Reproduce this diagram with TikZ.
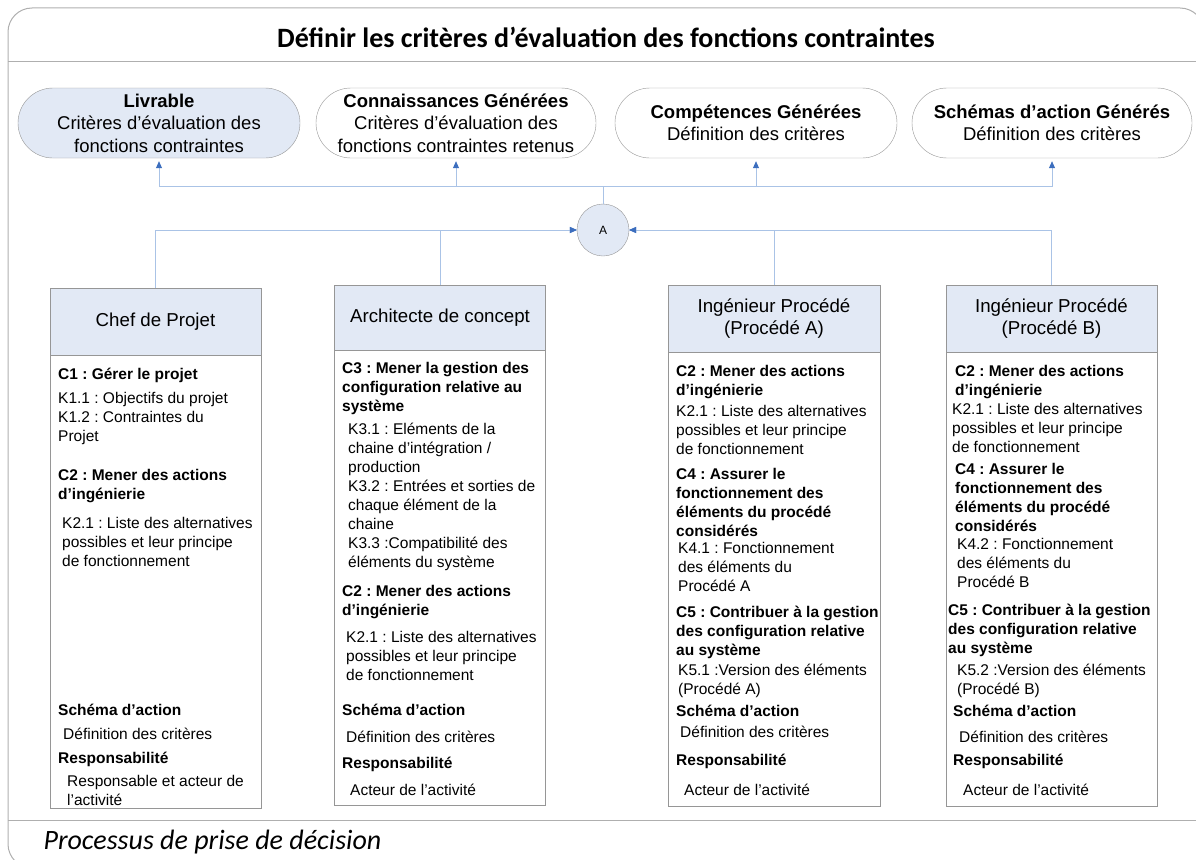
\documentclass[tikz,border=0pt]{standalone}
\usepackage{fontspec}
\setmainfont{Liberation Sans}
\newfontfamily\calibri{Carlito}
\usetikzlibrary{arrows.meta,shapes.misc,positioning,calc}
\definecolor{cadreGris} {RGB}{175, 175, 175}
\definecolor{boiteGris} {RGB}{150, 150, 150}
\definecolor{teteBleu}  {RGB}{226, 233, 245}
\definecolor{lienBleu}  {RGB}{170, 195, 230}
\definecolor{pointeBleu}{RGB}{ 60, 110, 190}
\frenchspacing

\tikzset{
  capsule/.style={rounded rectangle, draw=boiteGris, minimum height=70pt,
    inner sep=0pt, align=center, font=\fontsize{18.5}{22.5}\selectfont},
  entete/.style={rectangle, draw=boiteGris, fill=teteBleu, minimum width=211pt,
    align=center, font=\fontsize{18.7}{22}\selectfont},
  corps/.style={rectangle, draw=boiteGris, minimum width=211pt, anchor=north},
  lien/.style={draw=lienBleu, line width=0.8pt},
  pointe/.style={-{Triangle[length=7pt,width=6pt,color=pointeBleu]}},
  txt/.style={font=\fontsize{15.5}{19}\selectfont, anchor=base west, inner sep=0pt},
  txtb/.style={font=\fontsize{15.5}{19}\selectfont\bfseries, anchor=base west, inner sep=0pt},
}

% lignes de texte : style, nom, x, y de la 1re ligne, liste
\newcommand{\lignes}[5]{%
  \foreach \lg [count=\k] in {#5}
    \node[#1] (#2\k) at (#3,{#4+19*(\k-1)}) {\lg};}

\begin{document}
\begin{tikzpicture}[x=1pt,y=-1pt]
  \clip (0,0) rectangle (1196,859);
  % Cadre
  \draw[cadreGris,line width=1pt,rounded corners=24pt] (8,8) rectangle (1204,868);
  \draw[cadreGris,line width=1pt] (8,62) -- (1196,62);
  \draw[cadreGris,line width=1pt] (8,820) -- (1196,820);
  \node[font=\calibri\bfseries\fontsize{28}{32}\selectfont] (titre) at (606,37)
    {Définir les critères d’évaluation des fonctions contraintes};
  \node[font=\calibri\itshape\fontsize{28}{32}\selectfont,anchor=west] (proc) at (40,842)
    {Processus de prise de décision};

  % Resultats
  \node[capsule,fill=teteBleu,minimum width=282pt] (livr) at (159,123)
    {\textbf{Livrable}\\Critères d’évaluation des\\fonctions contraintes};
  \node[capsule,minimum width=280pt] (conn) at (456,123)
    {\textbf{Connaissances Générées}\\Critères d’évaluation des\\fonctions contraintes retenus};
  \node[capsule,minimum width=282pt] (comp) at (756,123)
    {\textbf{Compétences Générées}\\Définition des critères};
  \node[capsule,minimum width=280pt] (schem) at (1052,123)
    {\textbf{Schémas d’action Générés}\\Définition des critères};

  % Activite
  \node[circle,draw=boiteGris,fill=teteBleu,minimum size=52pt,inner sep=0pt,
    font=\fontsize{12}{14}\selectfont] (hub) at (603,230) {A};
  \coordinate (bus) at (603,186);
  \draw[lien] (hub.north) -- (hub.north |- bus);
  \foreach \c in {livr,conn,comp,schem}
    \draw[lien,pointe,shorten >=3pt] (hub.north |- bus) -| (\c.south);

  % Acteurs
  \node[entete,minimum height=67pt] (chef) at (155.5,321.5) {Chef de Projet};
  \node[corps,minimum height=453pt] (chefC) at (chef.south) {};
  \node[entete,minimum height=65pt] (arch) at (440,317.5) {Architecte de concept};
  \node[corps,minimum height=455pt] (archC) at (arch.south) {};
  \node[entete,minimum height=67pt,minimum width=212pt] (ingA) at (774,318.5)
    {Ingénieur Procédé\\(Procédé A)};
  \node[corps,minimum height=454pt,minimum width=212pt] (ingAC) at (ingA.south) {};
  \node[entete,minimum height=67pt] (ingB) at (1051.5,318.5)
    {Ingénieur Procédé\\(Procédé B)};
  \node[corps,minimum height=454pt] (ingBC) at (ingB.south) {};

  \foreach \b in {chef,arch}
    \draw[lien,pointe] (\b.north) |- (hub.west);
  \foreach \b in {ingA,ingB}
    \draw[lien,pointe] (\b.north) |- (hub.east);

  % Chef de projet
  \lignes{txtb}{a1-}{58}{379}{C1 : Gérer le projet}
  \lignes{txt}{a2-}{58}{403}{K1.1 : Objectifs du projet,K1.2 : Contraintes du,Projet}
  \lignes{txtb}{a3-}{58}{480}{C2 : Mener des actions,d’ingénierie}
  \lignes{txt}{a4-}{62}{528}{K2.1 : Liste des alternatives,possibles et leur principe,de fonctionnement}
  \lignes{txtb}{a5-}{58}{715}{Schéma d’action}
  \lignes{txt}{a6-}{63}{739}{Définition des critères}
  \lignes{txtb}{a7-}{58}{763}{Responsabilité}
  \lignes{txt}{a8-}{67}{786}{Responsable et acteur de,l’activité}

  % Architecte de concept
  \lignes{txtb}{b1-}{342}{373}{C3 : Mener la gestion des,configuration relative au,système}
  \lignes{txt}{b2-}{348}{434}{K3.1 : Eléments de la,{chaine d’intégration /},production,
    K3.2 : Entrées et sorties de,chaque élément de la,chaine,K3.3 :Compatibilité des,éléments du système}
  \lignes{txtb}{b3-}{342}{596}{C2 : Mener des actions,d’ingénierie}
  \lignes{txt}{b4-}{346}{642}{K2.1 : Liste des alternatives,possibles et leur principe,de fonctionnement}
  \lignes{txtb}{b5-}{342}{715}{Schéma d’action}
  \lignes{txt}{b6-}{346}{742}{Définition des critères}
  \lignes{txtb}{b7-}{342}{768}{Responsabilité}
  \lignes{txt}{b8-}{350}{795}{Acteur de l’activité}

  % Ingenieur procede A
  \lignes{txtb}{c1-}{676}{376}{C2 : Mener des actions,d’ingénierie}
  \lignes{txt}{c2-}{676}{416}{K2.1 : Liste des alternatives,possibles et leur principe,de fonctionnement}
  \lignes{txtb}{c3-}{676}{479}{C4 : Assurer le,fonctionnement des,éléments du procédé,considérés}
  \lignes{txt}{c4-}{678}{553}{K4.1 : Fonctionnement,des éléments du,Procédé A}
  \lignes{txtb}{c5-}{676}{617}{C5 : Contribuer à la gestion,des configuration relative,au système}
  \lignes{txt}{c6-}{678}{675}{K5.1 :Version des éléments,(Procédé A)}
  \lignes{txtb}{c7-}{676}{716}{Schéma d’action}
  \lignes{txt}{c8-}{680}{737}{Définition des critères}
  \lignes{txtb}{c9-}{676}{765}{Responsabilité}
  \lignes{txt}{c10-}{684}{795}{Acteur de l’activité}

  % Ingenieur procede B
  \lignes{txtb}{d1-}{955}{376}{C2 : Mener des actions,d’ingénierie}
  \lignes{txt}{d2-}{952}{414}{K2.1 : Liste des alternatives,possibles et leur principe,de fonctionnement}
  \lignes{txtb}{d3-}{955}{474}{C4 : Assurer le,fonctionnement des,éléments du procédé,considérés}
  \lignes{txt}{d4-}{957}{549}{K4.2 : Fonctionnement,des éléments du,Procédé B}
  \lignes{txtb}{d5-}{948}{615}{C5 : Contribuer à la gestion,des configuration relative,au système}
  \lignes{txt}{d6-}{957}{675}{K5.2 :Version des éléments,(Procédé B)}
  \lignes{txtb}{d7-}{953}{716}{Schéma d’action}
  \lignes{txt}{d8-}{959}{742}{Définition des critères}
  \lignes{txtb}{d9-}{953}{765}{Responsabilité}
  \lignes{txt}{d10-}{963}{795}{Acteur de l’activité}
\end{tikzpicture}
\end{document}
